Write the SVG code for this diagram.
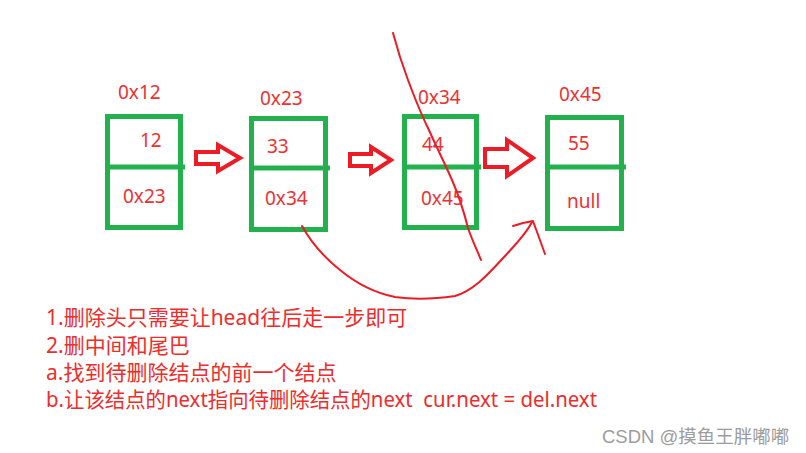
<svg xmlns="http://www.w3.org/2000/svg" width="806" height="453" viewBox="0 0 806 453">
<defs>
<style>
.box{fill:none;stroke:#22b14c;stroke-width:5}
.div{stroke:#22b14c;stroke-width:5}
.t{font-family:"Noto Sans","Liberation Sans","Noto Sans CJK SC",sans-serif;font-size:19px;fill:#ee3030}
.hollow{fill:none;stroke:#ed1c24;stroke-width:4;stroke-linejoin:miter}
.pen{fill:none;stroke:#ed1c24;stroke-width:2;stroke-linecap:round;stroke-linejoin:round}
.note{font-family:"Noto Sans","Noto Sans CJK SC",sans-serif;font-size:21px;fill:#ee2c2c;white-space:pre}
.wm{font-family:"Liberation Sans","Noto Sans CJK SC",sans-serif;font-size:18.5px;fill:#9c9c9c}
</style>
</defs>
<rect width="806" height="453" fill="#ffffff"/>

<g id="node1">
<text class="t" x="118" y="99">0x12</text>
<rect class="box" x="107.5" y="116.5" width="73" height="111"/>
<line class="div" x1="105" y1="167" x2="185" y2="167"/>
<text class="t" x="140" y="147">12</text>
<text class="t" x="123" y="203">0x23</text>
</g>

<g id="node2">
<text class="t" x="260" y="105">0x23</text>
<rect class="box" x="251.5" y="118.5" width="74" height="111"/>
<line class="div" x1="249" y1="168" x2="330" y2="168"/>
<text class="t" x="267" y="153">33</text>
<text class="t" x="265" y="205">0x34</text>
</g>

<g id="node3">
<text class="t" x="418" y="104">0x34</text>
<rect class="box" x="404.5" y="116.5" width="72" height="111"/>
<line class="div" x1="402" y1="167" x2="481" y2="167"/>
<text class="t" x="422" y="151">44</text>
<text class="t" x="421" y="205">0x45</text>
</g>

<g id="node4">
<text class="t" x="559" y="101">0x45</text>
<rect class="box" x="547.5" y="117.5" width="74" height="111"/>
<line class="div" x1="545" y1="167" x2="626" y2="167"/>
<text class="t" x="568" y="150">55</text>
<text class="t" x="567" y="208">null</text>
</g>

<g id="connectors">
<path class="hollow" d="M196,152 H218 V145 L240,158 L218,171 V164 H196 Z"/>
<path class="hollow" d="M350,154 H371 V147 L391,160 L371,173 V166 H350 Z"/>
<path class="hollow" d="M485,149 H507 V140 L533,158 L507,176 V167 H485 Z"/>
<path class="pen" d="M393,33 C397,48 402,64 408,80 C414,96 420,112 428,128 C436,146 445,164 452,180 C459,196 464,212 468,228 C472,240 477,250 481,260"/>
<path class="pen" d="M302,226 C312,244 325,258 340,270 C357,284 375,293 395,297 C415,300 435,299 455,296 C475,290 490,272 505,256 C515,245 526,234 532,222"/>
<path class="pen" d="M513,226 L523,223 L533,221 L537,232 L541,243 L545,254"/>
</g>

<g id="notes">
<text class="note" x="46" y="325">1.删除头只需要让head往后走一步即可</text>
<text class="note" x="46" y="353">2.删中间和尾巴</text>
<text class="note" x="46" y="380">a.找到待删除结点的前一个结点</text>
<text class="note" x="46" y="407" textLength="551" lengthAdjust="spacingAndGlyphs">b.让该结点的next指向待删除结点的next  cur.next = del.next</text>
</g>

<text class="wm" x="602" y="443">CSDN @摸鱼王胖嘟嘟</text>
</svg>
